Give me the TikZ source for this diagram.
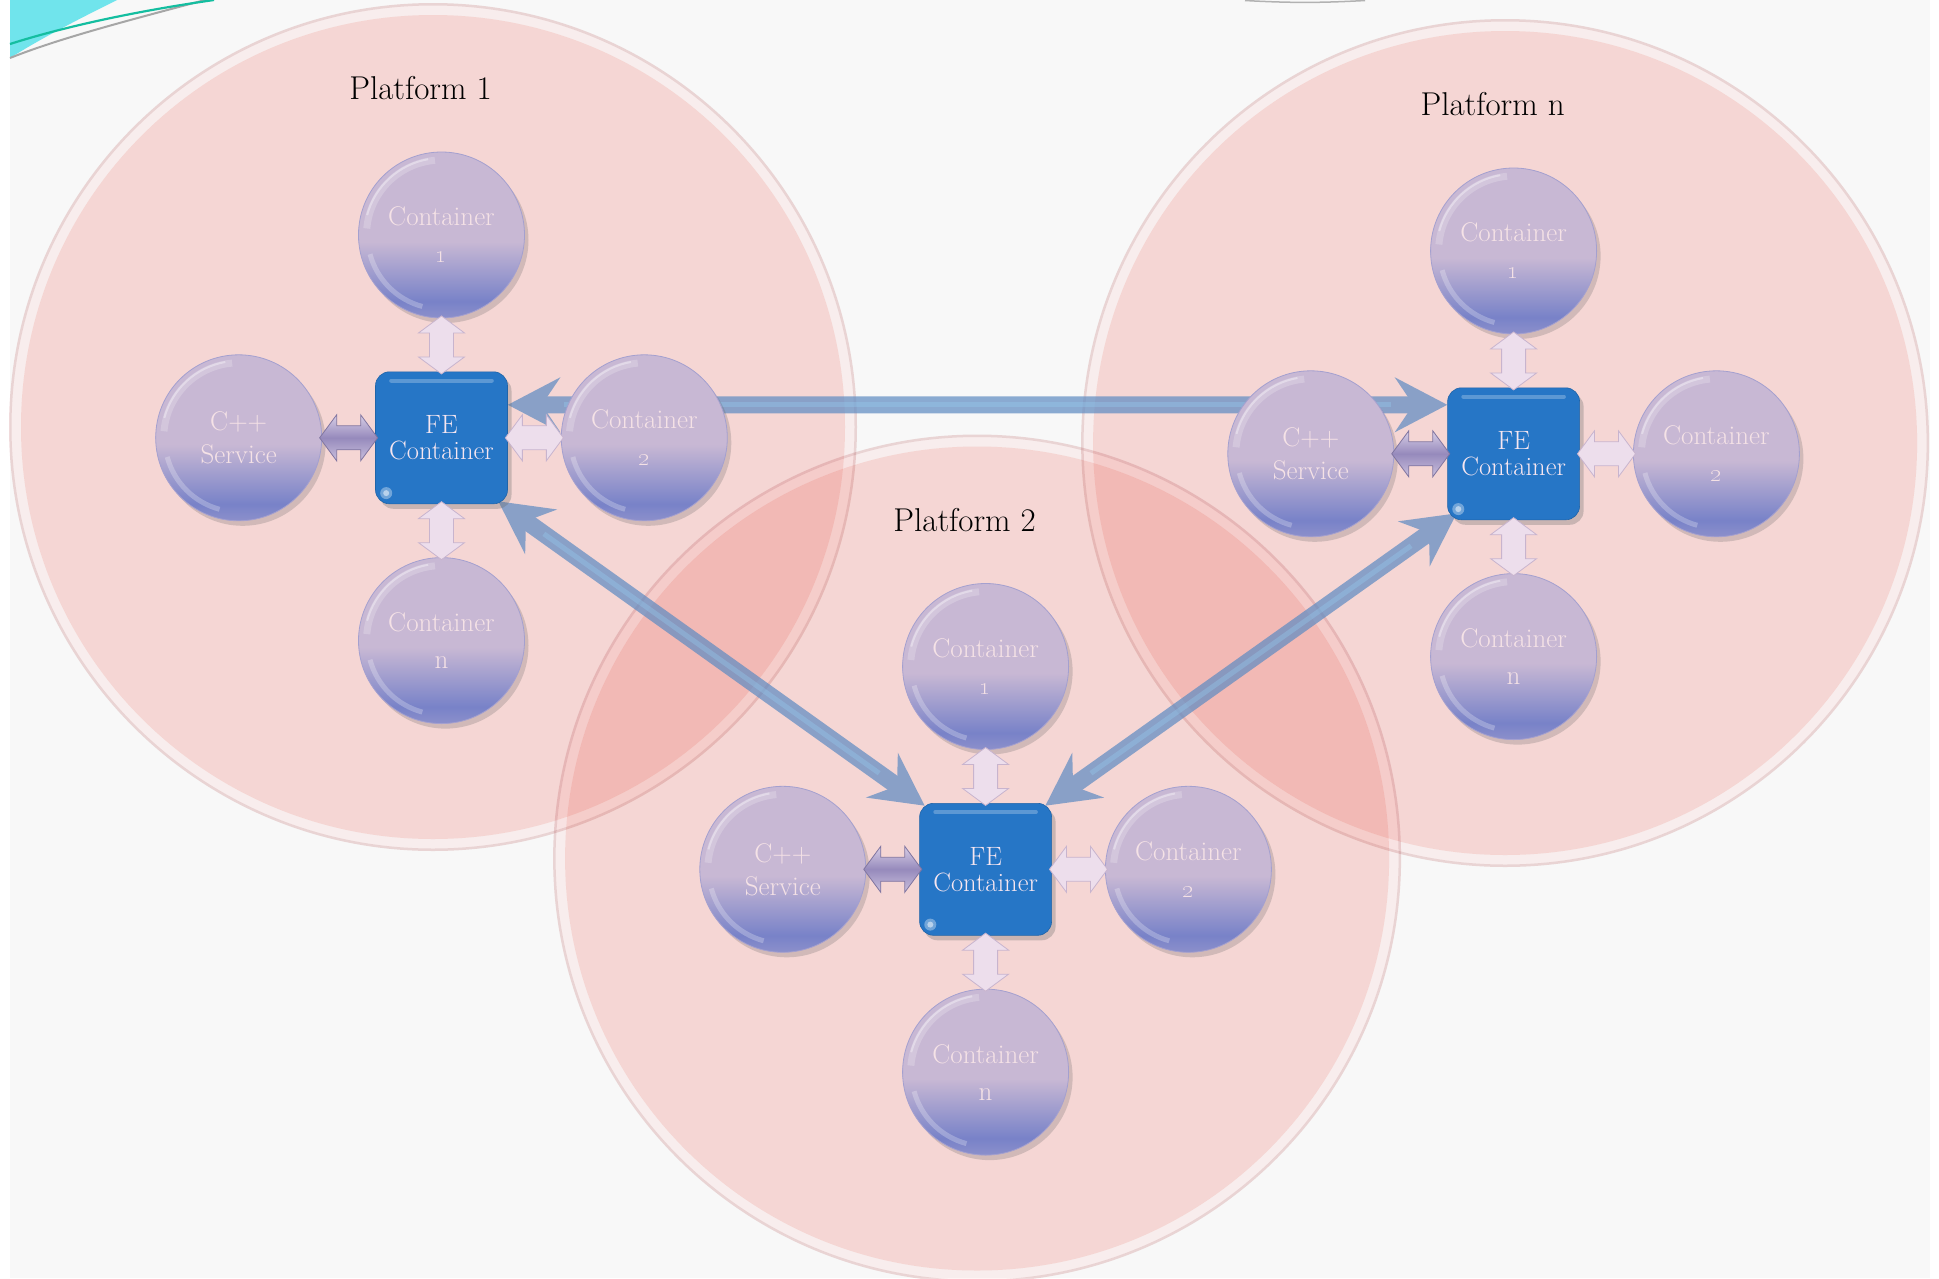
\documentclass[tikz,border=0pt]{standalone}
\usetikzlibrary{calc,shadows,arrows.meta}
\pgfdeclarelayer{back}
\pgfdeclarelayer{conn}
\pgfsetlayers{back,conn,main}

\definecolor{pagebg}{RGB}{248,248,248}
\definecolor{platpink}{RGB}{252,221,218}
\definecolor{platrim}{RGB}{255,244,244}
\definecolor{platedge}{RGB}{240,218,219}
\definecolor{balllav}{RGB}{200,184,212}
\definecolor{ballblue}{RGB}{120,130,200}
\definecolor{balltext}{RGB}{245,226,230}
\definecolor{feblue}{RGB}{38,118,198}
\definecolor{fetext}{RGB}{246,230,240}
\definecolor{linkblue}{RGB}{96,140,194}
\definecolor{linkhi}{RGB}{150,205,240}
\definecolor{arrowlight}{RGB}{237,222,236}
\definecolor{arrowedge}{RGB}{200,180,206}
\definecolor{arrowtop}{RGB}{216,206,230}
\definecolor{arrowdark}{RGB}{150,138,188}
\definecolor{decocyan}{RGB}{112,228,236}
\definecolor{decoteal}{RGB}{20,190,160}

% ball: blue at the bottom, lavender from the middle up
\pgfdeclareverticalshading{ballshade}{100bp}{%
  color(0bp)=(ballblue!75!balllav); color(25bp)=(ballblue!75!balllav);
  color(30bp)=(ballblue); color(48bp)=(balllav); color(100bp)=(balllav)}

\tikzset{
  ball/.style={circle, minimum size=166pt, inner sep=0pt, shading=ballshade,
    draw=ballblue!45!balllav, line width=.8pt, text=balltext, align=center,
    font=\fontsize{27}{37}\selectfont,
    drop shadow={shadow xshift=4pt, shadow yshift=-5pt, opacity=.25, fill=black!60}},
  svc/.style={font=\fontsize{27}{33}\selectfont},
  febox/.style={rectangle, rounded corners=14pt, minimum width=132pt,
    minimum height=132pt, inner sep=0pt, fill=feblue, draw=feblue!85!black,
    line width=.6pt, text=fetext, align=center, font=\fontsize{26.5}{26}\selectfont,
    drop shadow={shadow xshift=4pt, shadow yshift=-5pt, opacity=.3, fill=black!60}},
  title/.style={font=\fontsize{33}{38}\selectfont, text=black, inner sep=0pt},
  lightarr/.style={fill=arrowlight, draw=arrowedge, line width=.8pt,
    drop shadow={shadow xshift=2pt, shadow yshift=-2pt, opacity=.25, fill=black!50}},
  darkarr/.style={top color=arrowtop, bottom color=arrowtop!80!arrowdark,
    middle color=arrowdark, draw=arrowdark!85!black, line width=.8pt},
  bigconn/.style={draw=linkblue, line width=17pt,
    {Stealth[length=52pt,width=54pt,inset=18pt]}-{Stealth[length=52pt,width=54pt,inset=18pt]}},
  connhi/.style={draw=linkhi, line width=5pt, shorten <=56pt, shorten >=56pt},
  pics/dbl/.style={code={
    \path[pic actions] (-29,0) -- (-12,-23) -- (-12,-12) -- (12,-12) -- (12,-23)
      -- (29,0) -- (12,23) -- (12,12) -- (-12,12) -- (-12,23) -- cycle;}}
}

% one platform: its disc, title, four balls, the FE box and the short links
\newcommand\platformset[4]{%
  \begin{scope}[shift={(#2,#3)}]
    \begin{pgfonlayer}{back}
      \begin{scope}[blend mode=multiply]
        \fill[platedge,even odd rule] (-8.5,10.8) circle (424) (-8.5,10.8) circle (421.5);
        \fill[platrim,even odd rule] (-8.5,10.8) circle (421.5) (-8.5,10.8) circle (412);
        \fill[platpink] (-8.5,10.8) circle (412);
      \end{scope}
      \node[title,anchor=base] (#1title) at (-21,338.3) {#4};
    \end{pgfonlayer}
    \node[ball] (#1c1) at (0,202.8) {Container\\\oldstylenums{1}};
    \node[ball] (#1c2) at (202.8,0) {Container\\\oldstylenums{2}};
    \node[ball] (#1cn) at (0,-202.8) {Container\\n};
    \node[ball,svc] (#1cs) at (-202.8,0) {C++\\Service};
    \foreach \bn in {c1,c2,cn,cs}{
      \draw[white,opacity=.2,line width=7pt] ($(#1\bn)+(95:75)$) arc (95:175:75);
      \draw[white,opacity=.35,line width=2pt] ($(#1\bn)+(100:77)$) arc (100:165:77);
      \draw[white,opacity=.25,line width=5pt] ($(#1\bn)+(195:74)$) arc (195:255:74);
    }
    \node[febox] (#1fe) at (0,0) {FE\\Container};
    \draw[white,opacity=.25,line width=4pt,line cap=round]
      ([shift={(16pt,-9pt)}]#1fe.north west) -- ([shift={(-16pt,-9pt)}]#1fe.north east);
    \fill[white,opacity=.35] ([shift={(11pt,11pt)}]#1fe.south west) circle (6);
    \fill[white,opacity=.5] ([shift={(11pt,11pt)}]#1fe.south west) circle (3);
    \pic[lightarr,rotate=90] at ($(#1c1.south)!.5!(#1fe.north)$) {dbl};
    \pic[lightarr,rotate=90] at ($(#1cn.north)!.5!(#1fe.south)$) {dbl};
    \pic[lightarr] at ($(#1c2.west)!.5!(#1fe.east)$) {dbl};
    \pic[darkarr] at ($(#1cs.east)!.5!(#1fe.west)$) {dbl};
  \end{scope}
}

\begin{document}
\begin{tikzpicture}[x=1pt,y=1pt]
  \useasboundingbox (0,0) rectangle (1939,-1278);
  \begin{pgfonlayer}{back}
    \fill[white] (0,0) rectangle (1939,-1278);
    \fill[pagebg] (10,0) rectangle (1930,-1278);
    % corner ornament
    \fill[decocyan] (10,0) -- (117,0) .. controls (85,-16) and (45,-36) .. (10,-58) -- cycle;
    \draw[gray!70,line width=2pt] (10,-58) .. controls (60,-38) and (130,-20) .. (205,0);
    \draw[decoteal,line width=2.2pt] (10,-44) .. controls (60,-28) and (130,-12) .. (214,0);
    \draw[gray!60,line width=1.5pt] (1245,-0.5) .. controls (1290,-3) and (1320,-3) .. (1365,-0.5);
  \end{pgfonlayer}

  \platformset{p1}{441.5}{-437.8}{Platform 1}
  \platformset{pn}{1513.6}{-453.8}{Platform n}
  \platformset{p2}{985.6}{-869.3}{Platform 2}

  % links between the FE containers
  \begin{pgfonlayer}{conn}
    \begin{scope}[transparency group, opacity=.72]
      \draw[bigconn] ([yshift=33pt]p1fe.east) -- ([yshift=49pt]pnfe.west);
      \draw[bigconn] ([shift={(-9.5pt,2.8pt)}]p1fe.south east) -- ([shift={(5.4pt,-2.7pt)}]p2fe.north west);
      \draw[bigconn] ([shift={(9.4pt,6.8pt)}]pnfe.south west) -- ([shift={(-6.6pt,-2.7pt)}]p2fe.north east);
    \end{scope}
    \begin{scope}[opacity=.35]
      \draw[connhi] ([yshift=33pt]p1fe.east) -- ([yshift=49pt]pnfe.west);
      \draw[connhi] ([shift={(-9.5pt,2.8pt)}]p1fe.south east) -- ([shift={(5.4pt,-2.7pt)}]p2fe.north west);
      \draw[connhi] ([shift={(9.4pt,6.8pt)}]pnfe.south west) -- ([shift={(-6.6pt,-2.7pt)}]p2fe.north east);
    \end{scope}
  \end{pgfonlayer}
\end{tikzpicture}
\end{document}
